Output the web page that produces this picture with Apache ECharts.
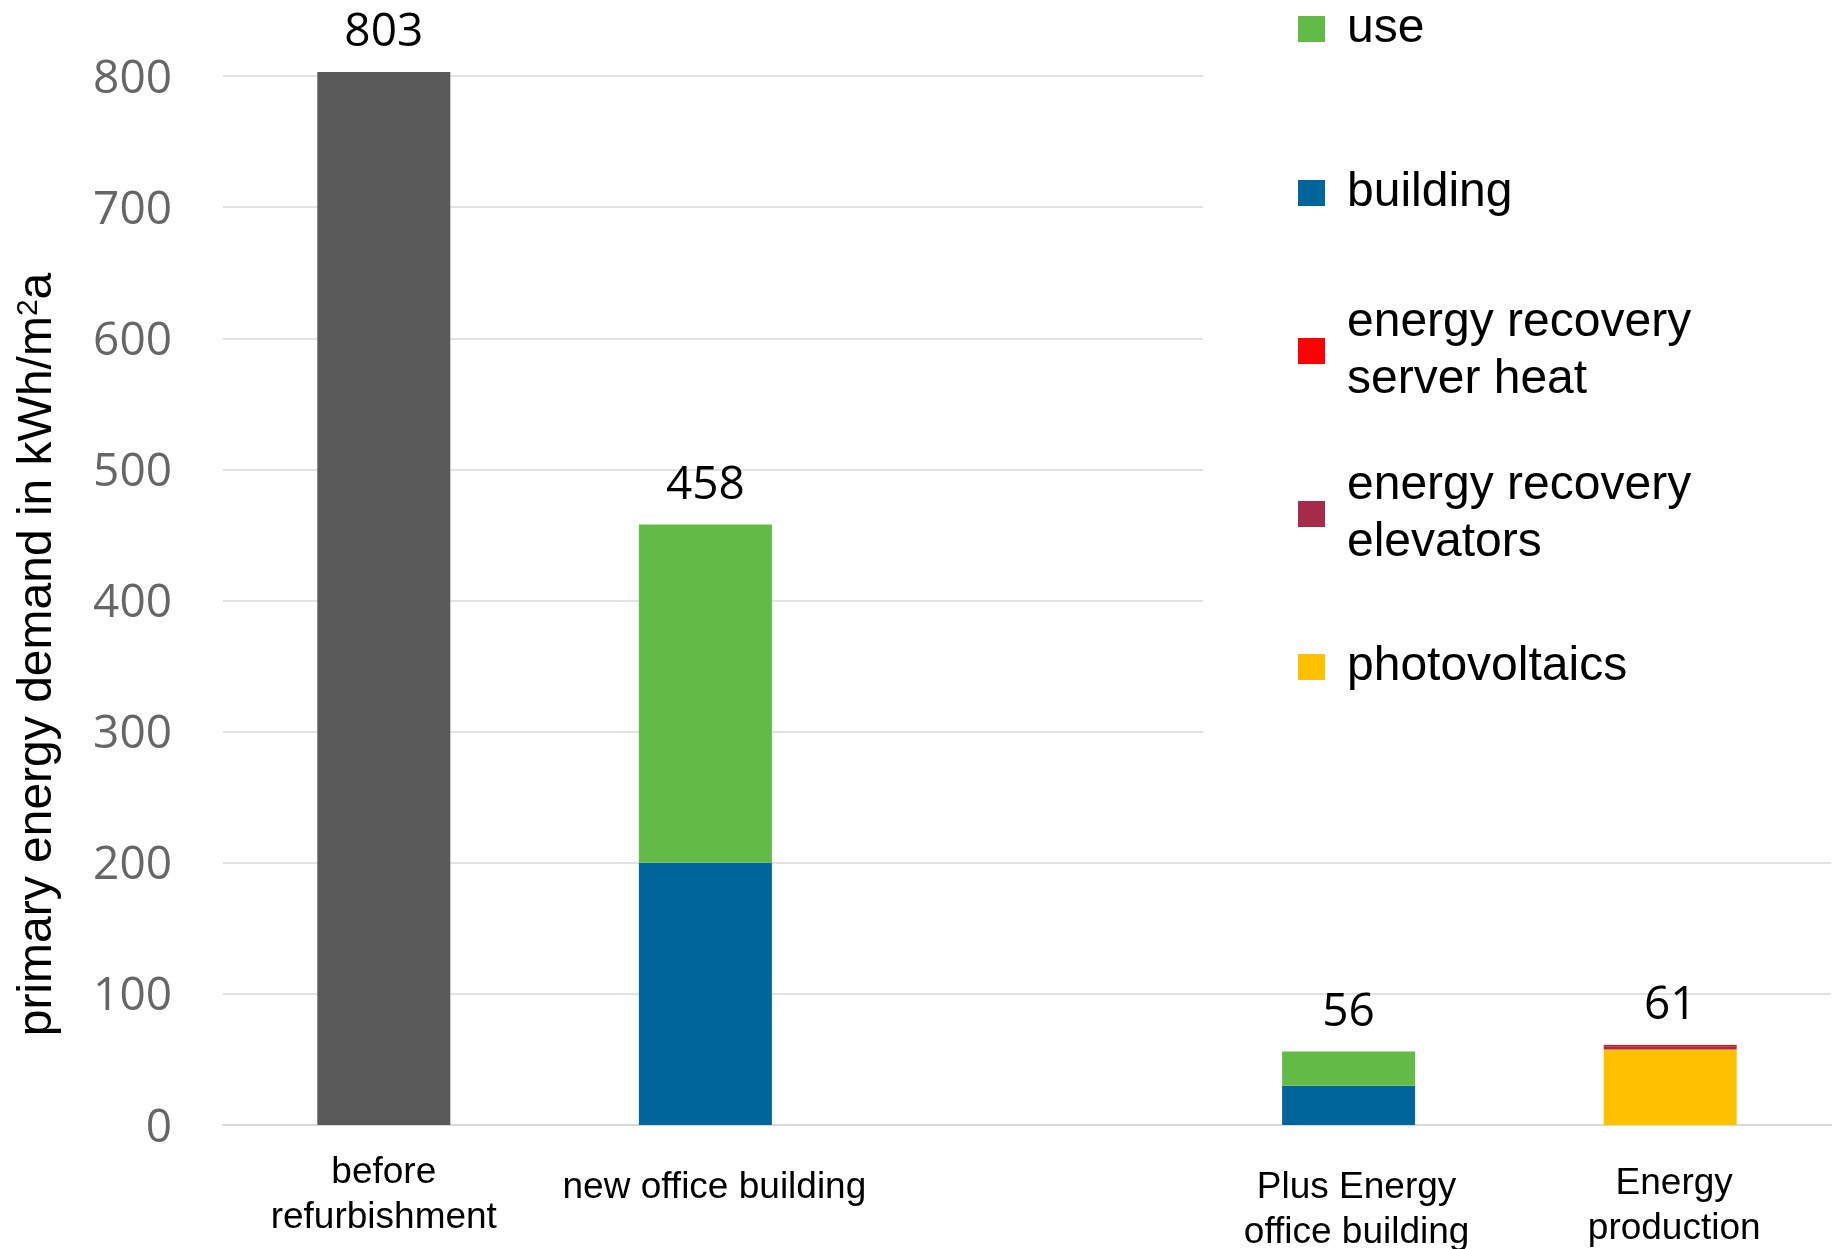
<!DOCTYPE html>
<html>
<head>
<meta charset="utf-8">
<script src="https://cdn.jsdelivr.net/npm/echarts@6/dist/echarts.min.js"></script>
<style>
  html, body { margin: 0; padding: 0; background: #fff; }
  #chart { width: 1837px; height: 1249px; }
</style>
</head>
<body>
<div id="chart"></div>
<script>
// Primary energy demand (kWh/m²a) per building state
const categories = ['before\nrefurbishment', 'new office building', '', 'Plus Energy\noffice building', 'Energy\nproduction'];
const beforeValues        = [803, null, null, null, null];
const buildingValues      = [null, 200, null, 30, null];
const useValues           = [null, 258, null, 26, null];
const photovoltaicsValues = [null, null, null, null, 57.5];
const elevatorsValues     = [null, null, null, null, 2.5];
const serverHeatValues    = [null, null, null, null, 1];
const yTickMin = 0, yTickMax = 800, yTickStep = 100;

const seriesDefs = [
  { name: 'before refurbishment', values: beforeValues, color: '#595959' },
  { name: 'building', values: buildingValues, color: '#00659A' },
  { name: 'use', values: useValues, color: '#63BB47' },
  { name: 'photovoltaics', values: photovoltaicsValues, color: '#FFC000' },
  { name: 'energy recovery\nelevators', values: elevatorsValues, color: '#A52C48' },
  { name: 'energy recovery\nserver heat', values: serverHeatValues, color: '#FF0000' }
];

// stack totals and the top segment of each stack
const totals = categories.map((_, i) => seriesDefs.reduce((s, d) => s + (d.values[i] || 0), 0));
const topSeries = categories.map((_, i) => {
  let top = -1;
  seriesDefs.forEach((d, k) => { if (d.values[i] != null) top = k; });
  return top;
});

const labelFont = { fontFamily: '"Open Sans", sans-serif', fontSize: 46, color: '#000' };

const series = seriesDefs.map((d, k) => ({
  name: d.name,
  type: 'bar',
  stack: 'demand',
  barWidth: 133,
  clip: false,
  itemStyle: { color: d.color },
  data: d.values.map((v, i) => {
    if (v == null) return '-';
    if (topSeries[i] === k) {
      return {
        value: v,
        label: {
          show: true, position: 'top', distance: 16, ...labelFont,
          formatter: () => String(Math.round(totals[i]))
        }
      };
    }
    return v;
  })
}));

// legend entries, each placed as its own block
const legendLayout = [
  { name: 'use', center: 29, lines: 1 },
  { name: 'building', center: 193, lines: 1 },
  { name: 'energy recovery\nserver heat', center: 351, lines: 2 },
  { name: 'energy recovery\nelevators', center: 514, lines: 2 },
  { name: 'photovoltaics', center: 667, lines: 1 }
];
const legendLine = 57;
const legends = legendLayout.map(l => ({
  data: [l.name],
  orient: 'vertical',
  left: 1298,
  top: l.center - l.lines * legendLine / 2,
  padding: 0,
  icon: 'rect',
  itemWidth: 27,
  itemHeight: 26,
  selectedMode: false,
  textStyle: {
    fontFamily: '"Liberation Sans", Arial, sans-serif',
    fontSize: 48, lineHeight: legendLine, color: '#000',
    padding: [0, 0, 0, 17]
  }
}));

const xLabelPad = [0, 15, 0, 15, 11];
const xLabelShift = [0, 18, 0, 16, 8];

const chart = echarts.init(document.getElementById('chart'), null, { renderer: 'canvas' });
chart.setOption({
  animation: false,
  backgroundColor: '#fff',
  grid: { left: 223, right: 6, top: 76, bottom: 124, containLabel: false, outerBoundsMode: 'none' },
  legend: legends,
  graphic: [{
    type: 'rect', left: 1203, top: 0, z: 1,
    shape: { width: 634, height: 795 },
    style: { fill: '#fff' }
  }],
  xAxis: {
    type: 'category',
    data: categories.map((c, i) => ({
      value: c,
      textStyle: { padding: [xLabelPad[i], 0, 0, xLabelShift[i]] }
    })),
    axisLine: { lineStyle: { color: '#d9d9d9', width: 2 } },
    axisTick: { show: false },
    axisLabel: {
      interval: 0, margin: 25,
      fontFamily: '"Liberation Sans", Arial, sans-serif',
      fontSize: 37, lineHeight: 45, color: '#000'
    }
  },
  yAxis: {
    type: 'value',
    min: yTickMin, max: yTickMax, interval: yTickStep,
    name: 'primary energy demand in kWh/m{sup|2}a',
    nameLocation: 'middle',
    nameRotate: 90,
    nameGap: 161,
    nameTextStyle: {
      fontFamily: '"Liberation Sans", Arial, sans-serif',
      fontSize: 48, color: '#000',
      padding: [0, 108, 0, 0],
      rich: {
        sup: { fontFamily: '"Liberation Sans", Arial, sans-serif', fontSize: 30, color: '#000', verticalAlign: 'top', padding: [0, 0, 14, 0] }
      }
    },
    axisLine: { show: false },
    axisTick: { show: false },
    splitLine: { lineStyle: { color: '#d9d9d9', width: 1.5 } },
    axisLabel: {
      margin: 51,
      formatter: v => '{t|' + v + '}',
      rich: {
        t: { fontFamily: '"Open Sans", sans-serif', fontSize: 46, color: '#666', padding: [7, 0, 0, 0] }
      }
    }
  },
  series: series
});
</script>
</body>
</html>
